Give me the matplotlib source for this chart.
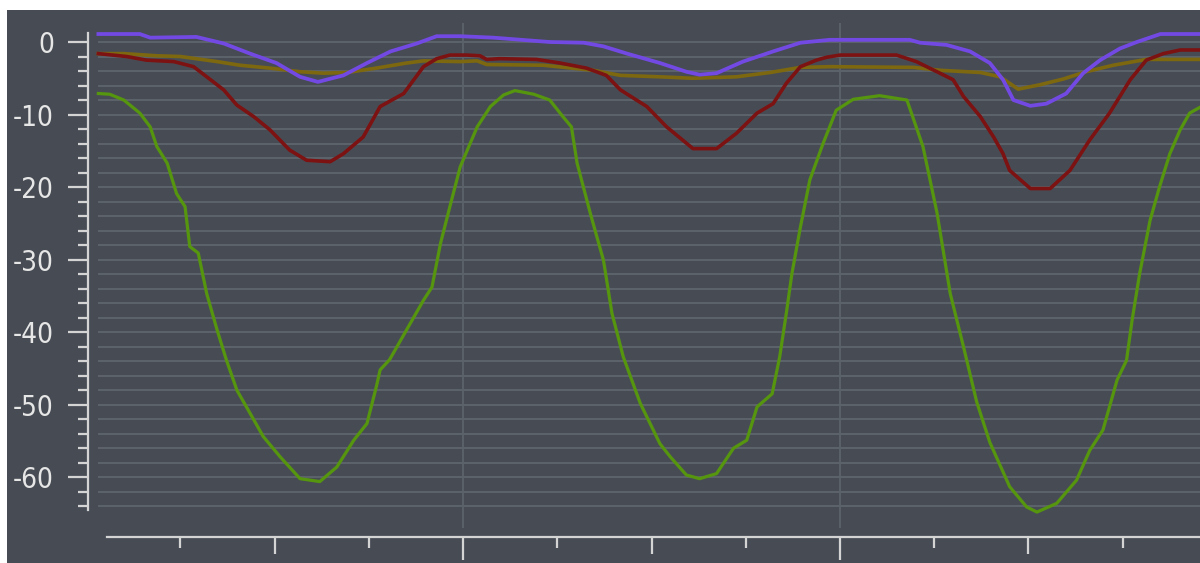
import matplotlib.pyplot as plt
import matplotlib.patches as mpatches
import numpy as np

# x in tick units (long ticks at 4 and 8), y in dB
green_x = [0.13, 0.25, 0.40, 0.57, 0.68, 0.75, 0.86, 0.96, 1.05, 1.10, 1.19, 1.28, 1.39, 1.49,
           1.60, 1.78, 1.88, 2.06, 2.27, 2.48, 2.66, 2.84, 2.98, 3.08, 3.12, 3.22, 3.40, 3.58,
           3.67, 3.76, 3.86, 3.97, 4.15, 4.29, 4.43, 4.55, 4.75, 4.92, 5.06, 5.15, 5.21, 5.35,
           5.49, 5.58, 5.70, 5.88, 6.09, 6.20, 6.37, 6.51, 6.69, 6.87, 7.01, 7.12, 7.28, 7.36,
           7.43, 7.49, 7.58, 7.68, 7.82, 7.96, 8.14, 8.42, 8.71, 8.88, 9.03, 9.17, 9.31, 9.45,
           9.59, 9.80, 9.98, 10.09, 10.30, 10.51, 10.65, 10.79, 10.94, 11.04, 11.10, 11.18,
           11.29, 11.39, 11.50, 11.61, 11.71, 11.82]
green_y = [-7.1, -7.2, -8.0, -9.8, -11.7, -14.4, -16.7, -20.9, -22.7, -28.2, -29.1, -34.7, -39.7, -43.9,
           -48.0, -52.1, -54.4, -57.2, -60.2, -60.6, -58.6, -54.9, -52.6, -47.5, -45.2, -43.8, -39.7, -35.6,
           -33.8, -27.8, -22.7, -17.2, -11.7, -8.9, -7.3, -6.7, -7.2, -8.0, -10.3, -11.7, -16.7, -23.6,
           -30.1, -37.4, -43.4, -49.8, -55.4, -57.2, -59.7, -60.2, -59.5, -56.0, -54.9, -50.3, -48.5, -43.4,
           -37.4, -31.9, -25.5, -19.0, -14.0, -9.4, -7.9, -7.4, -8.0, -14.4, -23.6, -34.7, -42.0, -49.6,
           -55.2, -61.3, -64.1, -64.8, -63.6, -60.4, -56.3, -53.5, -46.6, -43.9, -38.3, -31.9,
           -24.6, -20.0, -15.4, -12.1, -9.8, -9.0]

red_x = [0.13, 0.43, 0.64, 0.93, 1.14, 1.28, 1.46, 1.60, 1.78, 1.95, 2.16, 2.34, 2.59, 2.73, 2.94,
         3.12, 3.37, 3.58, 3.72, 3.86, 4.04, 4.18, 4.25, 4.39, 4.78, 5.03, 5.31, 5.52, 5.67, 5.95,
         6.16, 6.44, 6.69, 6.90, 7.12, 7.29, 7.43, 7.58, 7.75, 7.86, 8.00, 8.60, 8.81, 9.06, 9.20,
         9.31, 9.49, 9.63, 9.73, 9.80, 10.02, 10.23, 10.44, 10.65, 10.86, 11.08, 11.25, 11.43,
         11.61, 11.82]
red_y = [-1.6, -2.0, -2.5, -2.7, -3.4, -4.8, -6.6, -8.7, -10.3, -12.1, -14.9, -16.3, -16.5, -15.4, -13.1,
         -8.9, -7.1, -3.4, -2.3, -1.8, -1.8, -1.9, -2.4, -2.3, -2.4, -2.9, -3.6, -4.6, -6.6, -8.9,
         -11.7, -14.7, -14.7, -12.6, -9.8, -8.5, -5.7, -3.4, -2.5, -2.1, -1.8, -1.8, -2.7, -4.3, -5.2,
         -7.5, -10.3, -13.1, -15.4, -17.7, -20.2, -20.2, -17.7, -13.5, -9.8, -5.2, -2.5, -1.6,
         -1.1, -1.1]

purple_x = [0.13, 0.57, 0.68, 1.17, 1.46, 1.74, 2.02, 2.27, 2.46, 2.73, 2.98, 3.23, 3.51, 3.72, 3.97,
            4.32, 4.92, 5.28, 5.49, 5.74, 6.09, 6.37, 6.51, 6.69, 6.97, 7.29, 7.58, 7.89, 8.74, 8.85,
            9.13, 9.38, 9.59, 9.73, 9.84, 10.02, 10.19, 10.40, 10.58, 10.76, 10.97, 11.15, 11.40, 11.82]
purple_y = [1.1, 1.1, 0.6, 0.7, -0.2, -1.6, -2.9, -4.8, -5.5, -4.6, -2.9, -1.3, -0.2, 0.8, 0.8,
            0.6, 0.0, -0.1, -0.6, -1.6, -2.9, -4.1, -4.5, -4.3, -2.7, -1.3, -0.1, 0.3, 0.3, -0.1,
            -0.4, -1.3, -2.9, -5.2, -8.0, -8.8, -8.5, -7.1, -4.3, -2.5, -0.9, 0.0, 1.1, 1.1]

olive_x = [0.13, 0.40, 0.75, 1.00, 1.39, 1.63, 1.95, 2.27, 2.52, 2.77, 3.08, 3.40, 3.58, 3.97, 4.15,
           4.25, 4.85, 5.38, 5.67, 6.09, 6.44, 6.90, 7.26, 7.58, 7.89, 8.78, 9.06, 9.49, 9.70, 9.89,
           10.12, 10.37, 10.61, 10.90, 11.25, 11.82]
olive_y = [-1.6, -1.6, -1.9, -2.0, -2.7, -3.2, -3.6, -4.1, -4.3, -4.2, -3.6, -2.9, -2.6, -2.7, -2.6,
           -3.1, -3.2, -3.9, -4.6, -4.8, -5.0, -4.8, -4.2, -3.5, -3.4, -3.5, -3.9, -4.2, -4.8, -6.5,
           -5.9, -5.1, -4.1, -3.2, -2.4, -2.4]

bg = '#474c54'
grid_c = '#5d636b'
fg = '#d4d4d4'

fig = plt.figure(figsize=(12, 5.63), dpi=100, facecolor='white')
fig.patches.append(mpatches.Rectangle((7 / 1200, 0), 1, 1 - 10 / 563, transform=fig.transFigure,
                                      facecolor=bg, edgecolor='none', zorder=-10))

ax = fig.add_axes([88 / 1200, 35 / 563, 1 - 88 / 1200, (563 - 23 - 35) / 563])
ax.set_zorder(1)
ax.patch.set_visible(False)
ax.set_xlim(0.02, 11.82)
ax.set_ylim(-67.0, 2.62)

# grid
ax.hlines(np.arange(-64, 1, 2), 0.13, 11.82, color=grid_c, lw=1.4, zorder=1)
for gx in [4, 8]:
    ax.axvline(gx, color=grid_c, lw=1.3, zorder=1)

ax.plot(olive_x, olive_y, color='#7d680f', lw=2.6, zorder=3)
ax.plot(red_x, red_y, color='#7c1212', lw=2.6, zorder=4)
ax.plot(green_x, green_y, color='#56960f', lw=2.3, zorder=4)
ax.plot(purple_x, purple_y, color='#7349e4', lw=2.7, zorder=5)

for s in ['top', 'right']:
    ax.spines[s].set_visible(False)
ax.spines['left'].set_color(fg)
ax.spines['left'].set_linewidth(1.6)
ax.spines['left'].set_bounds(-64.5, 1.2)
ax.spines['bottom'].set_color(fg)
ax.spines['bottom'].set_linewidth(1.6)
ax.spines['bottom'].set_position(('outward', 6.5))
ax.spines['bottom'].set_bounds(0.22, 11.82)

ax.set_yticks(np.arange(-60, 1, 10))
ax.set_yticks(np.arange(-64, 1, 2), minor=True)
ax.set_yticklabels([str(v) for v in range(-60, 1, 10)])
ax.tick_params(axis='y', which='major', length=14.5, width=1.6, color=fg, pad=10,
               labelsize=20, labelcolor='#e6e6e6')
ax.tick_params(axis='y', which='minor', length=7.5, width=1.6, color=fg)
for lab in ax.get_yticklabels():
    lab.set_fontstretch('condensed')

ax.set_xticks([2, 4, 6, 8, 10])
ax.set_xticks([1, 3, 5, 7, 9, 11], minor=True)
ax.tick_params(axis='x', which='major', length=12, width=1.6, color=fg, labelbottom=False)
ax.tick_params(axis='x', which='minor', length=8, width=1.6, color=fg)
for i, t in enumerate(ax.xaxis.get_major_ticks()):
    if i in (1, 3):
        t.tick1line.set_markersize(16.5)

fig.savefig('out.png', dpi=100, facecolor='white')
